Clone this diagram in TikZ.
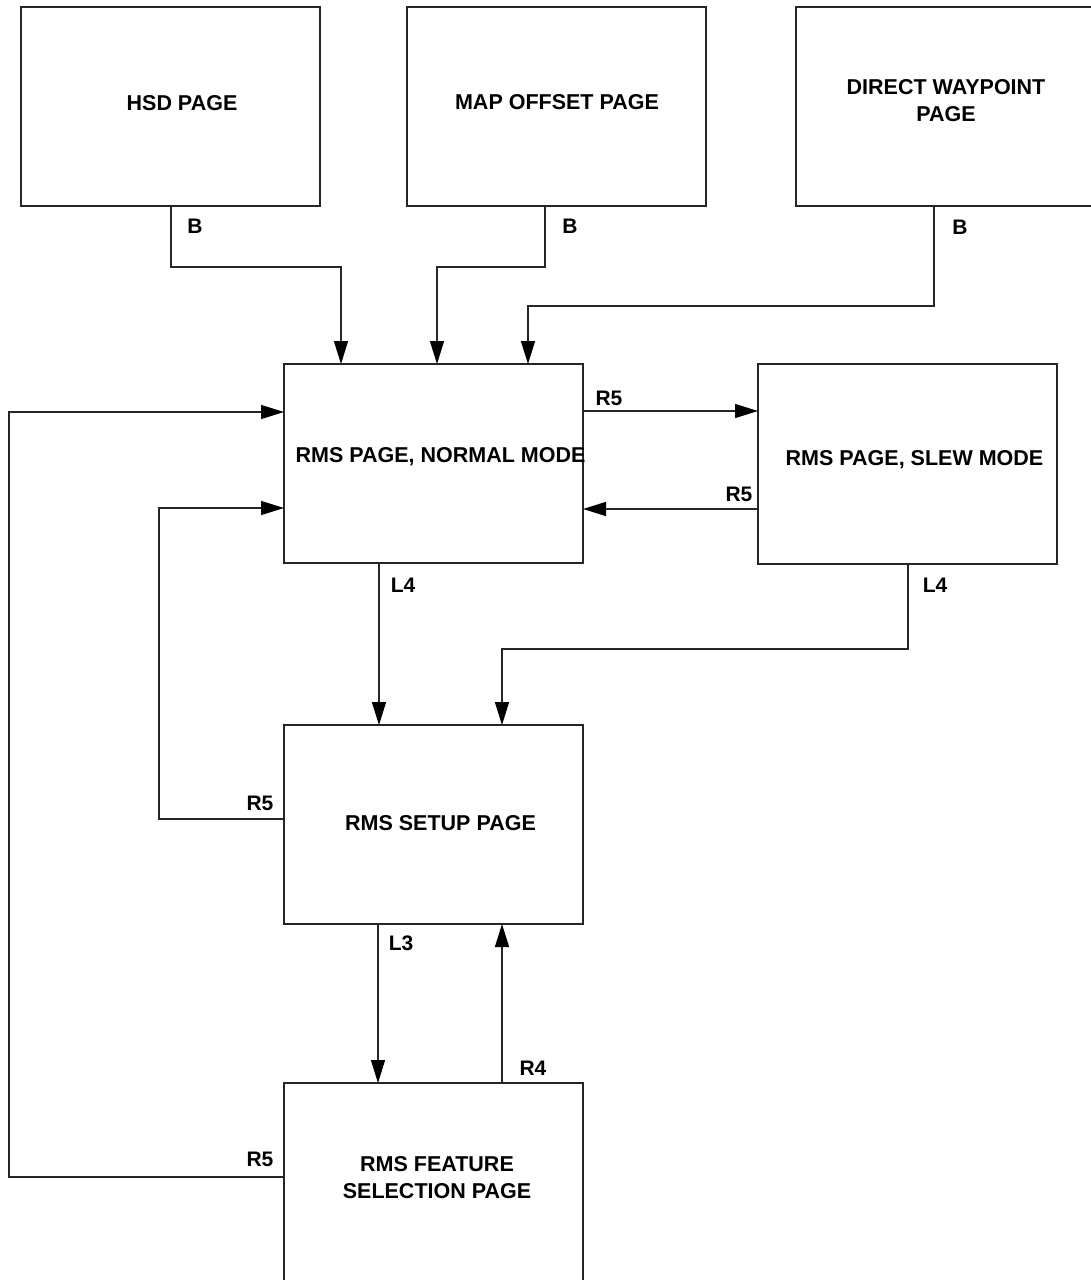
\documentclass[tikz,border=0pt]{standalone}
\usepackage{fontspec}
\setmainfont{Liberation Sans}
\usetikzlibrary{arrows.meta}
\begin{document}
\begin{tikzpicture}[x=1pt,y=-1pt,
  pagebox/.style={draw=black!85, line width=1.4pt, rectangle, inner sep=0pt, outer sep=0pt, anchor=north west},
  txt/.style={font=\fontsize{21.5}{27}\selectfont\bfseries, align=center, inner sep=0pt},
  lbl/.style={font=\fontsize{21}{24}\selectfont\bfseries, inner sep=0pt},
  conn/.style={draw=black!85, line width=1.4pt, -{Triangle[length=23pt,width=14pt,fill=black,color=black]}}]
\useasboundingbox (0,0) rectangle (1090,1280);

% page boxes
\node[pagebox, minimum width=299pt, minimum height=199pt] (hsd) at (21,7) {};
\node[pagebox, minimum width=299pt, minimum height=199pt] (map) at (407,7) {};
\node[pagebox, minimum width=300pt, minimum height=199pt] (dw) at (796,7) {};
\node[pagebox, minimum width=299pt, minimum height=199pt] (normal) at (284,364) {};
\node[pagebox, minimum width=299pt, minimum height=200pt] (slew) at (758,364) {};
\node[pagebox, minimum width=299pt, minimum height=199pt] (setup) at (284,725) {};
\node[pagebox, minimum width=299pt, minimum height=210pt] (feature) at (284,1083) {};

% page titles
\node[txt] (thsd) at (182,103) {HSD PAGE};
\node[txt] (tmap) at (557,102) {MAP OFFSET PAGE};
\node[txt] (tdw) at (946,101) {DIRECT WAYPOINT\\PAGE};
\node[txt] (tnormal) at (440.5,457) {RMS PAGE, NORMAL MODE};
\node[txt] (tslew) at (914.5,460) {RMS PAGE, SLEW MODE};
\node[txt] (tsetup) at (440.5,823) {RMS SETUP PAGE};
\node[txt] (tfeature) at (437,1178) {RMS FEATURE\\SELECTION PAGE};

% B: back to the normal-mode page
\draw[conn] (171,0 |- hsd.south) -- (171,267) -| (341,0 |- normal.north);
\draw[conn] (545,0 |- map.south) -- (545,267) -| (437,0 |- normal.north);
\draw[conn] (934,0 |- dw.south) -- (934,306) -| (528,0 |- normal.north);

% R5 between normal and slew modes
\draw[conn] (normal.east |- 0,411) -- (slew.west |- 0,411);
\draw[conn] (slew.west |- 0,509) -- (normal.east |- 0,509);

% L4 to setup
\draw[conn] (379,0 |- normal.south) -- (379,0 |- setup.north);
\draw[conn] (908,0 |- slew.south) -- (908,649) -| (502,0 |- setup.north);

% R5 from setup back to normal
\draw[conn] (setup.west |- 0,819) -- (159,819) |- (normal.west |- 0,508);

% L3 / R4 between setup and feature selection
\draw[conn] (378,0 |- setup.south) -- (378,0 |- feature.north);
\draw[conn] (502,0 |- feature.north) -- (502,0 |- setup.south);

% R5 from feature selection back to normal
\draw[conn] (feature.west |- 0,1177) -- (9,1177) |- (normal.west |- 0,412);

% key labels
\node[lbl] (lb1) at (195,226) {B};
\node[lbl] (lb2) at (570,226) {B};
\node[lbl] (lb3) at (960,227) {B};
\node[lbl] (lr5a) at (609,398) {R5};
\node[lbl] (lr5b) at (739,494) {R5};
\node[lbl] (ll4a) at (403,585) {L4};
\node[lbl] (ll4b) at (935,585) {L4};
\node[lbl] (lr5c) at (260,803) {R5};
\node[lbl] (ll3) at (401,943) {L3};
\node[lbl] (lr4) at (533,1068) {R4};
\node[lbl] (lr5d) at (260,1159) {R5};
\end{tikzpicture}
\end{document}
